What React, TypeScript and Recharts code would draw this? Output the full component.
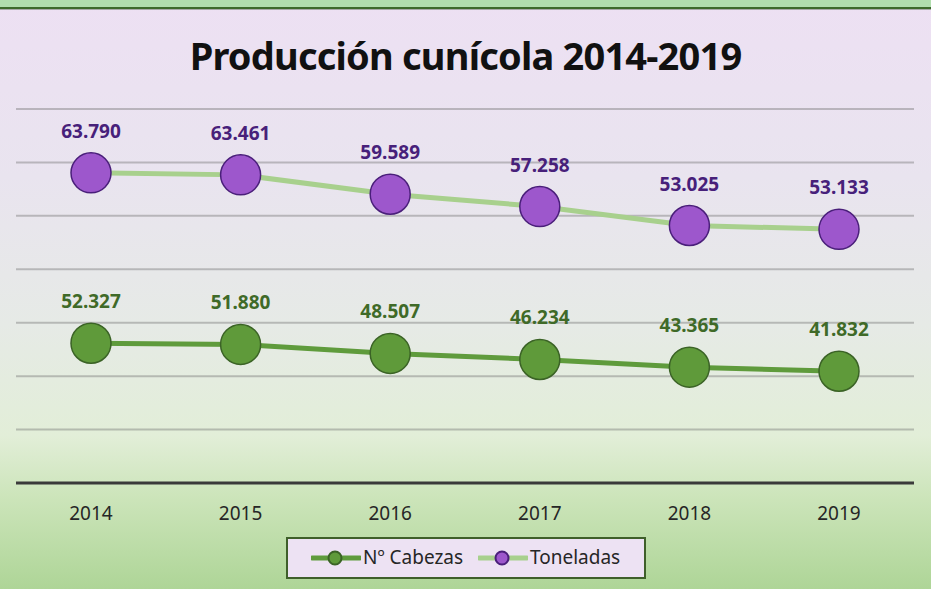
import React from 'react';
import { AreaChart, Area, XAxis, YAxis, CartesianGrid, LabelList } from 'recharts';

const years = ['2014', '2015', '2016', '2017', '2018', '2019'];
const cabezas = [52327, 51880, 48507, 46234, 43365, 41832];
const toneladas = [63790, 63461, 59589, 57258, 53025, 53133];
const yTicks = [0, 20000, 40000, 60000, 80000, 100000, 120000, 140000];

const data = years.map((y, i) => ({ year: y, cabezas: cabezas[i], toneladas: toneladas[i] }));

const FONT = '"Noto Sans", "Open Sans", sans-serif';

const fmt = (v: number) => String(v).replace(/\B(?=(\d{3})+(?!\d))/g, '.');

const makeLabel = (color: string) => (props: any) => {
  const { x, y, value } = props;
  return (
    <text
      x={x}
      y={y - 42}
      textAnchor="middle"
      dominantBaseline="central"
      fill={color}
      fontFamily={FONT}
      fontWeight={700}
      fontSize={19}
    >
      {fmt(Number(value))}
    </text>
  );
};

const LegendIcon = ({ line, fill, stroke }: { line: string; fill: string; stroke: string }) => (
  <svg width={50} height={16} style={{ display: 'block' }}>
    <line x1={1} y1={8} x2={49} y2={8} stroke={line} strokeWidth={5} strokeLinecap="round" />
    <circle cx={24} cy={8} r={6.5} fill={fill} stroke={stroke} strokeWidth={2} />
  </svg>
);

export default function App() {
  return (
    <div
      style={{
        position: 'fixed',
        left: 0,
        top: 0,
        width: 931,
        height: 589,
        overflow: 'hidden',
        background:
          'linear-gradient(to bottom, #ede0f3 0%, #e9e4ef 30%, #e6eae6 55%, #e2eed8 74%, #cde5bb 84%, #aed597 100%)',
      }}
    >
      <div style={{ position: 'absolute', left: 0, top: 0, width: 931, height: 7, background: '#b1deae' }} />
      <div style={{ position: 'absolute', left: 0, top: 7, width: 931, height: 2, background: '#3d6a2c' }} />
      <div style={{ position: 'absolute', left: 0, top: 9, width: 931, height: 1, background: '#a9a9a9' }} />
      <div
        style={{
          position: 'absolute',
          left: 0,
          top: 29,
          width: 931,
          textAlign: 'center',
          fontFamily: FONT,
          fontWeight: 700,
          fontSize: 38,
          lineHeight: '52px',
          color: '#111',
          letterSpacing: -0.8,
        }}
      >
        Producción cunícola 2014-2019
      </div>
      <div style={{ position: 'absolute', left: 0, top: 0 }}>
        <AreaChart width={931} height={589} data={data} margin={{ top: 109, right: 17, bottom: 76, left: 16 }}>
          <CartesianGrid vertical={false} stroke="rgba(110,110,110,0.4)" strokeWidth={2} />
          <YAxis hide domain={[0, 140000]} ticks={yTicks} />
          <XAxis
            dataKey="year"
            padding={{ left: 75, right: 75 }}
            axisLine={{ stroke: '#3a3a3a', strokeWidth: 3 }}
            tickLine={false}
            tickMargin={18}
            tick={{ fill: '#262626', fontFamily: FONT, fontSize: 19 }}
          />
          <Area
            type="linear"
            dataKey="cabezas"
            stackId="s"
            stroke="#5f9b3c"
            strokeWidth={5}
            fill="none"
            dot={{ r: 20, fill: '#5f9a3a', fillOpacity: 1, stroke: '#3b6326', strokeWidth: 1.5 }}
            activeDot={false}
            isAnimationActive={false}
          >
            <LabelList dataKey="cabezas" content={makeLabel('#3f6a28')} />
          </Area>
          <Area
            type="linear"
            dataKey="toneladas"
            stackId="s"
            stroke="#a8d08d"
            strokeWidth={5}
            fill="none"
            dot={{ r: 20, fill: '#9d57cc', fillOpacity: 1, stroke: '#4a1f7a', strokeWidth: 1.5 }}
            activeDot={false}
            isAnimationActive={false}
          >
            <LabelList dataKey="toneladas" content={makeLabel('#47207a')} />
          </Area>
        </AreaChart>
      </div>
      <div
        style={{
          position: 'absolute',
          left: 286,
          top: 537,
          width: 356,
          height: 38,
          background: '#ede2f3',
          border: '2px solid #3f5f2a',
          fontFamily: FONT,
          fontSize: 19,
          color: '#262626',
        }}
      >
        <div style={{ position: 'absolute', left: 23, top: 11 }}>
          <LegendIcon line="#5f9b3c" fill="#5f9a3a" stroke="#3b6326" />
        </div>
        <div style={{ position: 'absolute', left: 75, top: 5, lineHeight: '26px' }}>Nº Cabezas</div>
        <div style={{ position: 'absolute', left: 190, top: 11 }}>
          <LegendIcon line="#a8d08d" fill="#9d57cc" stroke="#4a1f7a" />
        </div>
        <div style={{ position: 'absolute', left: 242, top: 5, lineHeight: '26px' }}>Toneladas</div>
      </div>
    </div>
  );
}
